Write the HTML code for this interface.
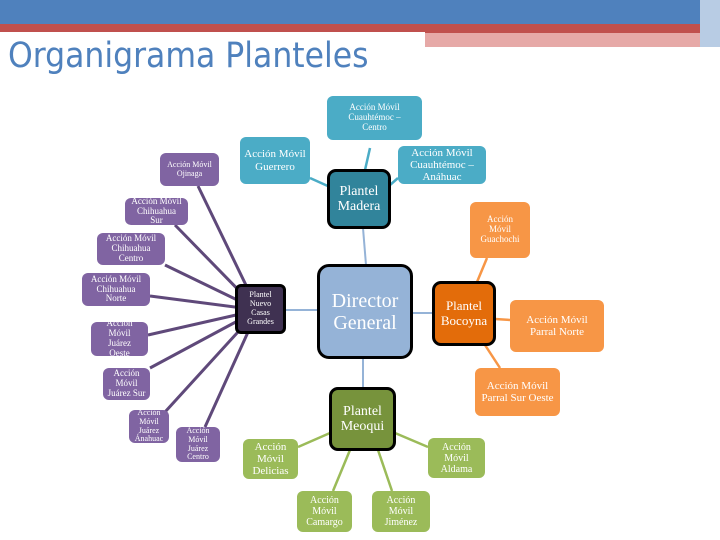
<!DOCTYPE html>
<html><head><meta charset="utf-8"><style>
*{margin:0;padding:0;box-sizing:border-box}
body{width:720px;height:540px;position:relative;background:#fff;overflow:hidden;font-family:"Liberation Serif",serif}
.n{position:absolute;display:flex;align-items:center;justify-content:center;text-align:center;color:#fff;border-radius:6px;line-height:1.1}
.p{background:#8064a2;font-size:9px}
.t{background:#4bacc6;font-size:11px}
.o{background:#f79646;font-size:11px}
.g{background:#9bbb59;font-size:10px}
.b{border:3px solid #000;border-radius:9px}
svg{position:absolute;left:0;top:0}
</style></head><body>
<div style="position:absolute;left:0;top:0;width:720px;height:24px;background:#4f81bd"></div>
<div style="position:absolute;left:0;top:24px;width:720px;height:12px;background:#c0504d"></div>
<div style="position:absolute;left:0;top:33px;width:720px;height:14px;background:#e6a9a7"></div>
<div style="position:absolute;left:700px;top:0;width:20px;height:47px;background:#b8cce4"></div>
<div style="position:absolute;left:0;top:32px;width:425px;height:55px;background:#fff"></div>
<div style="position:absolute;left:8px;top:36px;font-family:'DejaVu Sans Condensed','Liberation Sans',sans-serif;font-size:35px;color:#4f81bd">Organigrama Planteles</div>
<svg width="720" height="540">
<g stroke="#5f497a" stroke-width="3">
<line x1="258" y1="310" x2="198" y2="186"/><line x1="258" y1="310" x2="175" y2="225"/>
<line x1="258" y1="310" x2="165" y2="265"/><line x1="258" y1="310" x2="150" y2="296"/>
<line x1="258" y1="310" x2="148" y2="335"/><line x1="258" y1="310" x2="150" y2="368"/>
<line x1="258" y1="310" x2="165" y2="412"/><line x1="258" y1="310" x2="205" y2="427"/>
</g>
<g stroke="#95b3d7" stroke-width="2">
<line x1="285" y1="310" x2="318" y2="310"/><line x1="412" y1="313" x2="433" y2="313"/>
<line x1="363" y1="228" x2="366" y2="265"/><line x1="363" y1="358" x2="363" y2="388"/>
</g>
<g stroke="#4bacc6" stroke-width="2.5">
<line x1="370" y1="148" x2="365" y2="170"/><line x1="310" y1="178" x2="330" y2="187"/><line x1="398" y1="178" x2="390" y2="185"/>
</g>
<g stroke="#f79646" stroke-width="2.5">
<line x1="487" y1="258" x2="477" y2="282"/><line x1="495" y1="319" x2="510" y2="320"/><line x1="485" y1="345" x2="500" y2="368"/>
</g>
<g stroke="#9bbb59" stroke-width="2.5">
<line x1="330" y1="433" x2="298" y2="447"/><line x1="350" y1="450" x2="333" y2="491"/>
<line x1="378" y1="450" x2="392" y2="491"/><line x1="395" y1="433" x2="428" y2="447"/>
</g>
</svg>
<div class="n t" style="left:327px;top:96px;width:95px;height:44px;font-size:9px">Acción Móvil<br>Cuauhtémoc –<br>Centro</div>
<div class="n t" style="left:240px;top:137px;width:70px;height:47px">Acción Móvil<br>Guerrero</div>
<div class="n t" style="left:398px;top:146px;width:88px;height:38px">Acción Móvil<br>Cuauhtémoc –<br>Anáhuac</div>
<div class="n b" style="left:327px;top:169px;width:64px;height:60px;background:#31849b;font-size:14px">Plantel<br>Madera</div>
<div class="n p" style="left:160px;top:153px;width:59px;height:33px;font-size:8px">Acción Móvil<br>Ojinaga</div>
<div class="n p" style="left:125px;top:198px;width:63px;height:27px">Acción Móvil<br>Chihuahua<br>Sur</div>
<div class="n p" style="left:97px;top:233px;width:68px;height:32px">Acción Móvil<br>Chihuahua<br>Centro</div>
<div class="n p" style="left:82px;top:273px;width:68px;height:33px">Acción Móvil<br>Chihuahua<br>Norte</div>
<div class="n p" style="left:91px;top:322px;width:57px;height:34px;overflow:hidden">Acción<br>Móvil<br>Juárez<br>Oeste</div>
<div class="n p" style="left:103px;top:368px;width:47px;height:32px">Acción<br>Móvil<br>Juárez Sur</div>
<div class="n p" style="left:129px;top:410px;width:40px;height:33px;font-size:8px;overflow:hidden">Acción<br>Móvil<br>Juárez<br>Ánahuac</div>
<div class="n p" style="left:176px;top:427px;width:44px;height:35px;font-size:8px">Acción<br>Móvil<br>Juárez<br>Centro</div>
<div class="n b" style="left:235px;top:284px;width:51px;height:50px;background:#3f3151;font-size:8px;border-radius:6px">Plantel<br>Nuevo<br>Casas<br>Grandes</div>
<div class="n b" style="left:317px;top:264px;width:96px;height:95px;background:#95b3d7;font-size:20px;border-radius:12px">Director<br>General</div>
<div class="n b" style="left:432px;top:281px;width:64px;height:65px;background:#e36c0a;font-size:13px">Plantel<br>Bocoyna</div>
<div class="n o" style="left:470px;top:202px;width:60px;height:56px;font-size:9px">Acción<br>Móvil<br>Guachochi</div>
<div class="n o" style="left:510px;top:300px;width:94px;height:52px">Acción Móvil<br>Parral Norte</div>
<div class="n o" style="left:475px;top:368px;width:85px;height:48px">Acción Móvil<br>Parral Sur Oeste</div>
<div class="n b" style="left:329px;top:387px;width:67px;height:64px;background:#77933c;font-size:14px">Plantel<br>Meoqui</div>
<div class="n g" style="left:243px;top:439px;width:55px;height:40px;font-size:11px">Acción<br>Móvil<br>Delicias</div>
<div class="n g" style="left:297px;top:491px;width:55px;height:41px">Acción<br>Móvil<br>Camargo</div>
<div class="n g" style="left:372px;top:491px;width:58px;height:41px">Acción<br>Móvil<br>Jiménez</div>
<div class="n g" style="left:428px;top:438px;width:57px;height:40px">Acción<br>Móvil<br>Aldama</div>
</body></html>
